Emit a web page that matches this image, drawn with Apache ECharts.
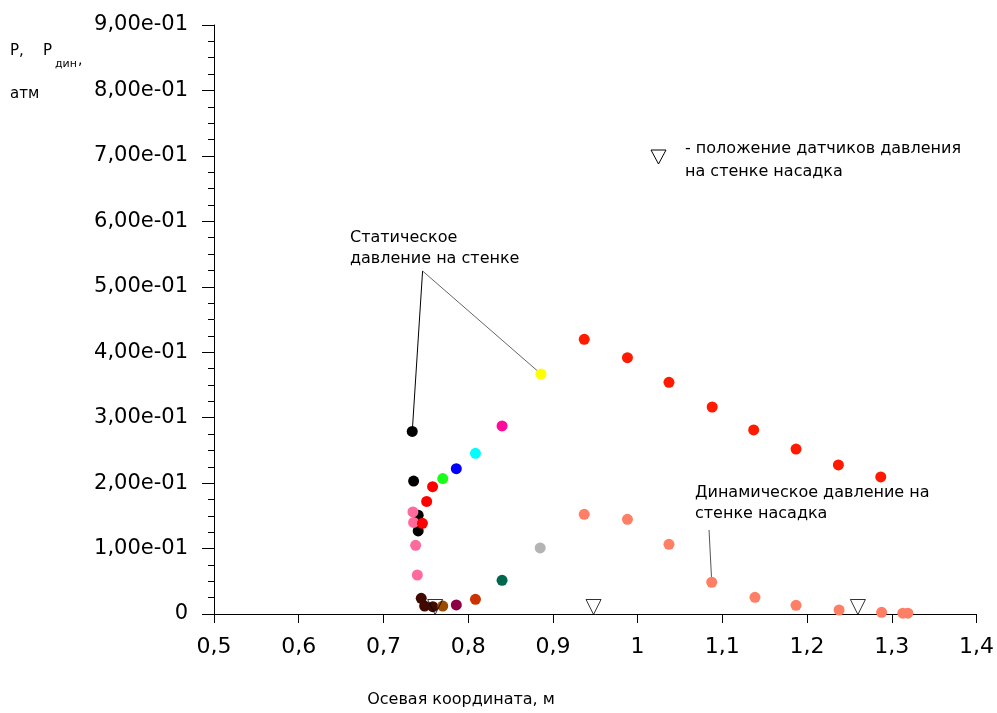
<!DOCTYPE html>
<html><head><meta charset="utf-8">
<script src="https://cdn.jsdelivr.net/npm/echarts/dist/echarts.min.js"></script>
<style>html,body{margin:0;padding:0;background:#fff}#c{width:997px;height:713px}</style>
</head><body><div id="c"></div>
<script>
// ---- tick labels ----
const xTickLabels = ['0,5','0,6','0,7','0,8','0,9','1','1,1','1,2','1,3','1,4'];
const yTickLabels = ['0','1,00e-01','2,00e-01','3,00e-01','4,00e-01','5,00e-01','6,00e-01','7,00e-01','8,00e-01','9,00e-01'];

// ---- data points [x (m), P (atm)] ----
const blackPts   = [[0.734,0.279],[0.7356,0.2032],[0.741,0.151],[0.741,0.127]];
const pinkPts    = [[0.7348,0.156],[0.7356,0.140],[0.738,0.105],[0.740,0.0596]];
const redLeftPts = [[0.758,0.1946],[0.751,0.172],[0.746,0.1386]];
const greenPts   = [[0.770,0.207]];
const bluePts    = [[0.786,0.222]];
const cyanPts    = [[0.8086,0.2456]];
const magentaPts = [[0.840,0.2873]];
const yellowPts  = [[0.886,0.3667]];
const greyPts    = [[0.885,0.101]];
const tealPts    = [[0.840,0.0515]];
const rustPts    = [[0.8086,0.0225]];
const maroonPts  = [[0.786,0.0138]];
const brownPts   = [[0.770,0.0122]];
const darkBrownPts = [[0.7446,0.024],[0.7486,0.0122],[0.7583,0.0112]];
const staticX = [0.937,0.988,1.037,1.088,1.137,1.187,1.237,1.287];
const staticP = [0.4197,0.3917,0.354,0.3163,0.2812,0.2521,0.2277,0.2094];
const dynX = [0.937,0.988,1.037,1.0875,1.1385,1.187,1.2378,1.288,1.313,1.319];
const dynP = [0.1523,0.1447,0.1065,0.0485,0.0255,0.0133,0.0061,0.0026,0.0013,0.0013];
const sensorX = [0.761,0.948,1.260];

// ---- annotation leader anchors (data coords) ----
const staticApex = [0.7462,0.5241];
const dynLeaderTop = [1.0843,0.1284];

const FONT = '"DejaVu Sans", sans-serif';
function sc(data, color, z){
  return {type:'scatter', data:data, symbol:'circle', symbolSize:11, z:z||3,
    itemStyle:{color:color, opacity:1}, emphasis:{disabled:true}, silent:true};
}
function leader(a, b, color){
  return {type:'line', data:[a,b], symbol:'none', z:2, silent:true,
    lineStyle:{color:color, width:1}};
}
const series = [
  leader(staticApex, blackPts[0], '#000'),
  leader(staticApex, yellowPts[0], '#666'),
  leader(dynLeaderTop, [dynX[3], dynP[3]], '#555'),
  sc(blackPts,'#000000'),
  sc(pinkPts,'#ff6a9a'),
  sc(redLeftPts,'#ff0000'),
  sc(greenPts,'#19ff19'),
  sc(bluePts,'#0000ff'),
  sc(cyanPts,'#00ffff'),
  sc(magentaPts,'#ff0a9a'),
  sc(yellowPts,'#ffff00'),
  sc(greyPts,'#b4b4b4'),
  sc(tealPts,'#00664c'),
  sc(rustPts,'#cc3300'),
  sc(maroonPts,'#8c0046'),
  sc(darkBrownPts,'#400a00'),
  sc(brownPts,'#9c4a00'),
  sc(staticX.map((x,i)=>[x,staticP[i]]),'#ff1a00'),
  sc(dynX.map((x,i)=>[x,dynP[i]]),'#ff7f66'),
  {type:'scatter', data:sensorX.map(x=>[x,0]), symbol:'triangle', symbolRotate:180,
   symbolSize:[15,15], symbolOffset:[0,-7], z:6, silent:true,
   itemStyle:{color:'rgba(0,0,0,0)', borderColor:'#000', borderWidth:1}}
];

const chart = echarts.init(document.getElementById('c'), null, {renderer:'canvas'});
chart.setOption({
  animation:false,
  backgroundColor:'#fff',
  grid:{left:214, right:19, top:25, bottom:99, containLabel:false},
  xAxis:{type:'value', min:0.5, max:1.4, interval:0.1,
    axisLine:{show:true, onZero:false, lineStyle:{color:'#000', width:1}},
    axisTick:{show:true, inside:false, length:9, lineStyle:{color:'#000'}},
    splitLine:{show:false},
    axisLabel:{margin:22, color:'#000', fontFamily:FONT, fontSize:22,
      formatter:v=>xTickLabels[Math.round((v-0.5)*10)]}},
  yAxis:{type:'value', min:0, max:0.9, interval:0.1,
    axisLine:{show:true, onZero:false, lineStyle:{color:'#000', width:1}},
    axisTick:{show:true, inside:false, length:12, lineStyle:{color:'#000'}},
    minorTick:{show:true, splitNumber:4, length:6, lineStyle:{color:'#000'}},
    splitLine:{show:false},
    axisLabel:{margin:26, color:'#000', fontFamily:FONT, fontSize:21,
      formatter:v=>yTickLabels[Math.round(v*10)]}},
  series:series,
  graphic:[
    {type:'text', x:10, y:51, style:{text:'P,', font:'15px '+FONT, fill:'#000', textVerticalAlign:'middle'}},
    {type:'text', x:43, y:51, style:{text:'P', font:'15px '+FONT, fill:'#000', textVerticalAlign:'middle'}},
    {type:'text', x:55, y:64, style:{text:'дин', font:'11px '+FONT, fill:'#000', textVerticalAlign:'middle'}},
    {type:'text', x:78, y:60, style:{text:',', font:'14px '+FONT, fill:'#000', textVerticalAlign:'middle'}},
    {type:'text', x:10, y:94, style:{text:'атм', font:'15px '+FONT, fill:'#000', textVerticalAlign:'middle'}},
    {type:'polygon', shape:{points:[[651,150],[666,150],[658.5,164]]}, style:{fill:'#fff', stroke:'#000', lineWidth:1}},
    {type:'text', x:685, y:149, style:{text:'- положение датчиков давления', font:'16px '+FONT, fill:'#000', textVerticalAlign:'middle'}},
    {type:'text', x:685, y:172, style:{text:'на стенке насадка', font:'16px '+FONT, fill:'#000', textVerticalAlign:'middle'}},
    {type:'text', x:350, y:238, style:{text:'Статическое', font:'16px '+FONT, fill:'#000', textVerticalAlign:'middle'}},
    {type:'text', x:350, y:259, style:{text:'давление на стенке', font:'16px '+FONT, fill:'#000', textVerticalAlign:'middle'}},
    {type:'text', x:695, y:493, style:{text:'Динамическое давление на', font:'16px '+FONT, fill:'#000', textVerticalAlign:'middle'}},
    {type:'text', x:695, y:514, style:{text:'стенке насадка', font:'16px '+FONT, fill:'#000', textVerticalAlign:'middle'}},
    {type:'text', x:461, y:700, style:{text:'Осевая координата, м', font:'16px '+FONT, fill:'#000', textAlign:'center', textVerticalAlign:'middle'}}
  ]
});
</script></body></html>
